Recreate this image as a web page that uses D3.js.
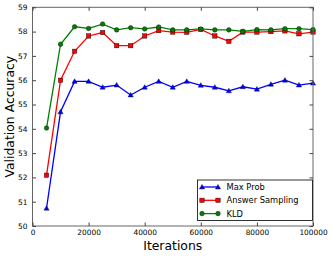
<!DOCTYPE html>
<html>
<head>
<meta charset="utf-8">
<script src="https://cdn.jsdelivr.net/npm/d3@7"></script>
<style>
    body { margin: 0; background: #fff; }
    svg { display: block; font-family: "DejaVu Sans", sans-serif; }
</style>
</head>
<body>
<svg id="chart" width="333" height="256"></svg>
<script>
const iterations = [5000, 10000, 15000, 20000, 25000, 30000, 35000, 40000, 45000, 50000,
    55000, 60000, 65000, 70000, 75000, 80000, 85000, 90000, 95000, 100000];
const maxProb = [50.73, 54.7, 55.95, 55.95, 55.71, 55.8, 55.39, 55.71, 55.95, 55.71,
    55.95, 55.79, 55.71, 55.56, 55.73, 55.63, 55.83, 56.0, 55.8, 55.88];
const answerSampling = [52.09, 56.0, 57.19, 57.82, 57.96, 57.42, 57.42, 57.82, 58.04, 57.98,
    57.97, 58.09, 57.82, 57.6, 57.98, 57.98, 58.0, 58.03, 57.91, 57.98];
const kld = [54.03, 57.48, 58.2, 58.13, 58.31, 58.07, 58.16, 58.11, 58.19, 58.07,
    58.07, 58.11, 58.07, 58.07, 58.01, 58.08, 58.07, 58.12, 58.12, 58.08];
const xTicks = [0, 20000, 40000, 60000, 80000, 100000];
const yTicks = [50, 51, 52, 53, 54, 55, 56, 57, 58, 59];

const series = [
    { name: 'Max Prob', values: maxProb, color: '#0000ff', marker: 'triangle' },
    { name: 'Answer Sampling', values: answerSampling, color: '#ff0000', marker: 'square' },
    { name: 'KLD', values: kld, color: '#008000', marker: 'circle' },
];

const plot = { left: 32.5, right: 313, top: 7.3, bottom: 226 };
const svg = d3.select('#chart');

const xScale = d3.scaleLinear([0, 100000], [plot.left, plot.right]);
const yScale = d3.scaleLinear([50, 59], [plot.bottom, plot.top]);

function drawMarker(g, type, x, y, color) {
    if (type === 'circle') {
        g.append('circle').attr('cx', x).attr('cy', y).attr('r', 2.3)
            .attr('fill', color).attr('stroke', '#000').attr('stroke-width', 0.4);
    }
    else if (type === 'square') {
        g.append('rect').attr('x', x - 2.2).attr('y', y - 2.2).attr('width', 4.4).attr('height', 4.4)
            .attr('fill', color).attr('stroke', '#000').attr('stroke-width', 0.4);
    }
    else {
        const s = 2.6;
        g.append('path').attr('d', `M${x},${y - s}L${x + s},${y + s * 0.75}L${x - s},${y + s * 0.75}Z`)
            .attr('fill', color).attr('stroke', '#000').attr('stroke-width', 0.4);
    }
}

// Lines and markers
const line = d3.line().x((d, i) => xScale(iterations[i])).y(d => yScale(d));
series.forEach((s) => {
    svg.append('path').attr('d', line(s.values)).attr('fill', 'none')
        .attr('stroke', s.color).attr('stroke-width', 1.3);
    const g = svg.append('g');
    s.values.forEach((v, i) => drawMarker(g, s.marker, xScale(iterations[i]), yScale(v), s.color));
});

// Frame
svg.append('rect').attr('x', plot.left).attr('y', plot.top)
    .attr('width', plot.right - plot.left).attr('height', plot.bottom - plot.top)
    .attr('fill', 'none').attr('stroke', '#666').attr('stroke-width', 1);

// Axes with inward ticks
const tickLen = 3.5;
svg.append('g').attr('transform', `translate(0,${plot.bottom})`)
    .call(d3.axisBottom(xScale).tickValues(xTicks).tickSizeInner(-tickLen).tickSizeOuter(0).tickPadding(4).tickFormat(d3.format('d')))
    .call(g => g.select('.domain').remove());
svg.append('g').attr('transform', `translate(0,${plot.top})`)
    .call(d3.axisTop(xScale).tickValues(xTicks).tickSizeInner(-tickLen).tickSizeOuter(0).tickFormat(''))
    .call(g => g.select('.domain').remove());
svg.append('g').attr('transform', `translate(${plot.left},0)`)
    .call(d3.axisLeft(yScale).tickValues(yTicks).tickSizeInner(-tickLen).tickSizeOuter(0).tickPadding(5))
    .call(g => g.select('.domain').remove());
svg.append('g').attr('transform', `translate(${plot.right},0)`)
    .call(d3.axisRight(yScale).tickValues(yTicks).tickSizeInner(-tickLen).tickSizeOuter(0).tickFormat(''))
    .call(g => g.select('.domain').remove());
svg.selectAll('.tick line').attr('stroke', '#444');
svg.selectAll('.tick text').attr('font-family', '"DejaVu Sans", sans-serif').attr('font-size', 7.4).attr('fill', '#000');

// Axis titles
svg.append('text').attr('x', (plot.left + plot.right) / 2).attr('y', 249.5)
    .attr('text-anchor', 'middle').attr('font-size', 12.4).text('Iterations');
svg.append('text').attr('transform', `translate(13.5,${(plot.top + plot.bottom) / 2}) rotate(-90)`)
    .attr('text-anchor', 'middle').attr('font-size', 12.4).text('Validation Accuracy');

// Legend
const legend = svg.append('g');
legend.append('rect').attr('x', 197.5).attr('y', 180).attr('width', 115).attr('height', 40.5)
    .attr('fill', '#fff').attr('stroke', '#000').attr('stroke-width', 0.8);
series.forEach((s, i) => {
    const y = 187 + i * 13.3;
    legend.append('line').attr('x1', 202).attr('x2', 218).attr('y1', y).attr('y2', y)
        .attr('stroke', s.color).attr('stroke-width', 1.3);
    drawMarker(legend, s.marker, 202, y, s.color);
    drawMarker(legend, s.marker, 218, y, s.color);
    legend.append('text').attr('x', 226.5).attr('y', y).attr('dy', '0.35em')
        .attr('font-size', 8.3).text(s.name);
});
</script>
</body>
</html>
